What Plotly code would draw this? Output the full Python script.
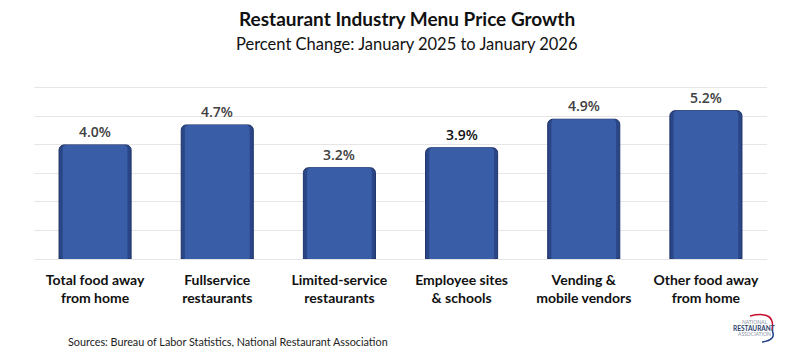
import plotly.graph_objects as go

categories = ["Total food away<br>from home", "Fullservice<br>restaurants", "Limited-service<br>restaurants",
              "Employee sites<br>& schools", "Vending &<br>mobile vendors", "Other food away<br>from home"]
values = [4.0, 4.7, 3.2, 3.9, 4.9, 5.2]
labels = ["4.0%", "4.7%", "3.2%", "3.9%", "4.9%", "5.2%"]
label_colors = ["#404040", "#404040", "#404040", "#111111", "#404040", "#404040"]
x_idx = list(range(len(categories)))

W, H = 799, 347
ML, MR, MT, MB = 34, 32, 85, 88
PW, PH = W - ML - MR, H - MT - MB
YMAX = 6.1


def px(x):
    return (x - ML) / PW


def py(y):
    return (H - MB - y) / PH


fig = go.Figure()
fig.add_trace(go.Bar(x=x_idx, y=values, width=0.59,
                     marker=dict(color="#2A4687", line=dict(color="#1F3468", width=1), cornerradius=5),
                     hoverinfo="skip", showlegend=False))
fig.add_trace(go.Bar(x=x_idx, y=values, width=0.53,
                     marker=dict(color="#3A5DA8", line=dict(width=0), cornerradius=4),
                     hoverinfo="skip", showlegend=False))

for xi, v, t, c in zip(x_idx, values, labels, label_colors):
    fig.add_annotation(x=xi, y=v, text=t, showarrow=False, yanchor="bottom", yshift=2,
                       font=dict(family="Open Sans", size=14, color=c, weight=600))

fig.update_layout(
    width=W, height=H,
    margin=dict(l=ML, r=MR, t=MT, b=MB),
    paper_bgcolor="white", plot_bgcolor="white",
    barmode="overlay",
    xaxis=dict(tickvals=x_idx, ticktext=categories, range=[-0.5, 5.5],
               showgrid=False, zeroline=False, showline=False, ticks="",
               tickfont=dict(family="Lato", size=14, color="#111111", weight=700),
               ticklabelstandoff=11),
    yaxis=dict(range=[0, YMAX], tickvals=[0, 1, 2, 3, 4, 5, 6], showgrid=True, gridcolor="#E6E6E6", gridwidth=1,
               showticklabels=False, zeroline=True, zerolinecolor="#E6E6E6", zerolinewidth=1,
               showline=False, ticks=""),
)

fig.add_annotation(xref="paper", yref="paper", x=px(407), y=py(19), xanchor="center", yanchor="middle",
                   text="<b>Restaurant Industry Menu Price Growth</b>", showarrow=False,
                   font=dict(family="Lato", size=19, color="#111111"))
fig.add_annotation(xref="paper", yref="paper", x=px(407), y=py(44), xanchor="center", yanchor="middle",
                   text="Percent Change: January 2025 to January 2026", showarrow=False,
                   font=dict(family="Lato", size=16.5, color="#111111"))
fig.add_annotation(xref="paper", yref="paper", x=px(66), y=py(341),
                   xanchor="left", yanchor="middle",
                   text="Sources: Bureau of Labor Statistics, National Restaurant Association", showarrow=False,
                   font=dict(family="Lato", size=10.8, color="#222222"))

# logo (decorative)
fig.add_annotation(xref="paper", yref="paper", x=px(754), y=py(322), xanchor="center", yanchor="middle",
                   text="NATIONAL", showarrow=False, font=dict(family="Lato", size=5, color="#8A93A6"))
fig.add_annotation(xref="paper", yref="paper", x=px(754), y=py(328), xanchor="center", yanchor="middle",
                   text="<b>RESTAURANT</b>", showarrow=False, font=dict(family="Lato", size=6.5, color="#2C3E6B"))
fig.add_annotation(xref="paper", yref="paper", x=px(754), y=py(334), xanchor="center", yanchor="middle",
                   text="ASSOCIATION", showarrow=False, font=dict(family="Lato", size=5, color="#8A93A6"))
fig.add_shape(type="path", xref="paper", yref="paper",
              path=f"M {px(750)} {py(316)} Q {px(776)} {py(310)} {px(772)} {py(330)}",
              line=dict(color="#C8102E", width=1.5))
fig.add_shape(type="path", xref="paper", yref="paper",
              path=f"M {px(772)} {py(330)} Q {px(777)} {py(340)} {px(762)} {py(342)}",
              line=dict(color="#1F3C88", width=1.5))

fig.write_html("out.html")
